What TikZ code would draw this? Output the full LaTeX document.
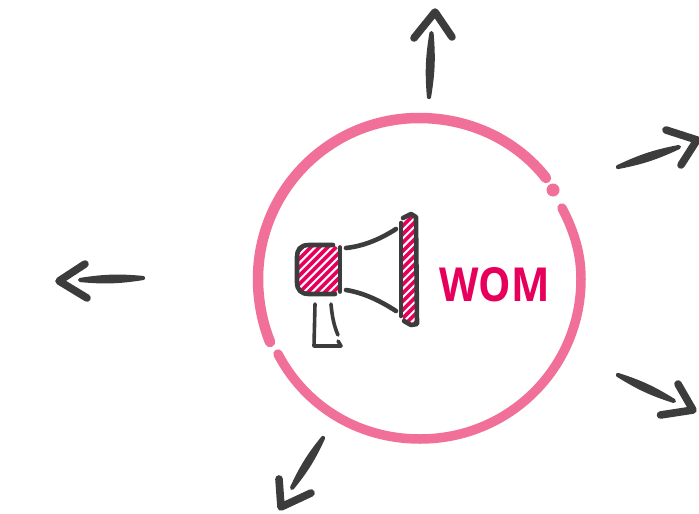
\documentclass[tikz,border=0pt]{standalone}
\usepackage{fontspec}
\setmainfont{Open Sans}
\usetikzlibrary{calc}
\definecolor{ringpink}{HTML}{F0709A}
\definecolor{ink}{HTML}{3C3C3C}
\definecolor{crim}{HTML}{E6005C}
\tikzset{
  ring/.style={draw=ringpink,line cap=round},
  shaft/.style={draw=ink,fill=ink,line width=4.2pt,line join=round,line cap=round},
  headline/.style={draw=ink,line width=7.6pt,line cap=round,line join=round},
  mega/.style={draw=ink,line width=4.6pt,line cap=round,line join=round},
  thin mega/.style={draw=ink,line width=3.6pt,line cap=round,line join=round},
  hatchline/.style={draw=white,line width=2pt},
}
\begin{document}
\begin{tikzpicture}[x=1pt,y=-1pt]
\useasboundingbox (0,0) rectangle (699,514);
% ring
\draw[ring,line width=9.5pt] (562,208) .. controls (575,233) and (581,255) .. (581,279)
  .. controls (581,368) and (509,439) .. (420,439)
  .. controls (356,439) and (304,404) .. (278,354);
\draw[ring,line width=10.5pt] (270,342) .. controls (262,322) and (258,300) .. (258,279)
  .. controls (258,190) and (330,118) .. (419,118)
  .. controls (472,118) and (518,142) .. (546,178);
\fill[ringpink] (553,190) circle (6.5pt);
% WOM
\node[text=crim,inner sep=0pt,anchor=center] (wom) at (494.5,284.5)
  {\resizebox{110pt}{34pt}{\bfseries WOM}};
% body
\coordinate (bodya) at (296,244);
\coordinate (bodyb) at (340,295);
\begin{scope}
  \clip[rounded corners=11pt] (bodya) rectangle (bodyb);
  \fill[crim] (bodya) rectangle (bodyb);
  \foreach \k in {-8,...,6}
    \draw[hatchline] ({296+\k*8.4},300) -- ++(60,-60);
\end{scope}
\draw[mega] (333,245) -- (309,245) .. controls (300,245) and (297,250) .. (297,257)
  -- (297,282) .. controls (297,290) and (301,294) .. (309,294) -- (335,294);
\draw[thin mega] (340,247) -- (340,292);
% horn
\draw[mega] (346,248) .. controls (365,246) and (382,238) .. (396,229);
\draw[mega] (346,290) .. controls (365,293) and (382,302) .. (396,311);
% bell
\begin{scope}
  \clip (403,217) rectangle (416,322);
  \fill[crim] (403,217) rectangle (416,322);
  \foreach \k in {0,...,16}
    \draw[hatchline] (390,{226+\k*8.4}) -- ++(40,-40);
\end{scope}
\draw[mega] (401,223) -- (401,316);
\draw[mega] (403,218) -- (411,214) -- (416,217) -- (417,324) -- (411,325) -- (404,321);
% stand
\draw[thin mega] (315,304) -- (314,346) -- (341,346) -- (338,341);
\draw[thin mega] (331,304) .. controls (332,316) and (334,326) .. (338,335);
% arrows
\foreach \n/\sx/\sy/\ex/\ey/\ax/\ay/\tx/\ty/\bx/\by in {
  up/429/97/431.5/33/414/38/435/12/452/37,
  lf/143/278/80/280/85/264/59/281/87/298,
  ur/618/167/679/147/666/130/697/140/681/165,
  dr/618/375/674/401/678/384/693/410/660.5/415,
  dl/323/438/292/488/279/479/281/507/311/493}{
  \coordinate (\n s) at (\sx,\sy);
  \coordinate (\n e) at (\ex,\ey);
  \coordinate (\n a) at (\ax,\ay);
  \coordinate (\n t) at (\tx,\ty);
  \coordinate (\n b) at (\bx,\by);
  \draw[shaft] (\n s) to[bend left=7] (\n e) to[bend left=7] (\n s);
  \draw[headline] (\n a) -- (\n t) -- (\n b);
}
\end{tikzpicture}
\end{document}
